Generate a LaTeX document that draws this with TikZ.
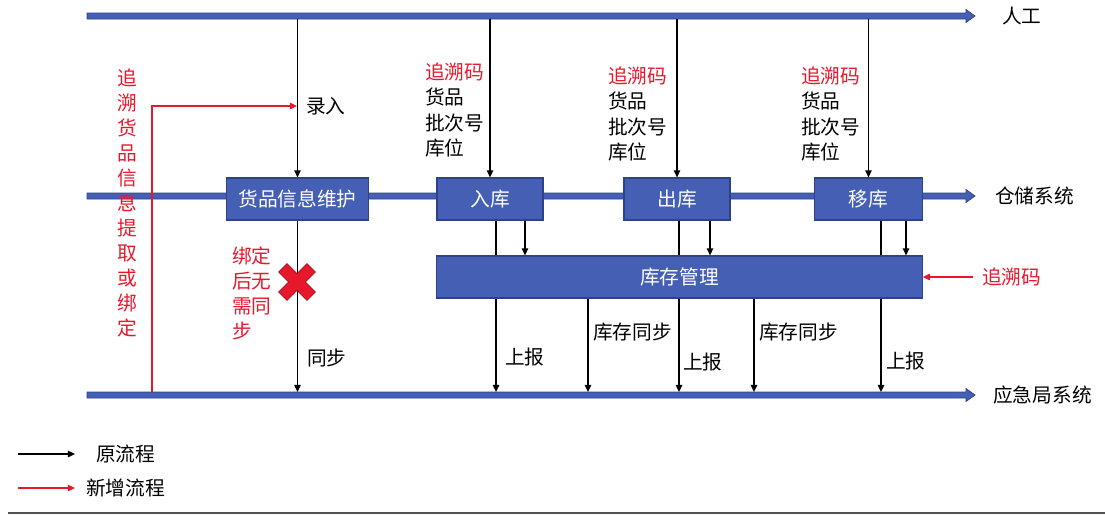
\documentclass[tikz,border=0pt]{standalone}
\usepackage{fontspec}
\setmainfont{Noto Sans CJK SC}
\usepackage{xcolor}
\usepackage{tikz}
\usetikzlibrary{calc,arrows.meta,positioning}
\definecolor{laneBlue}{RGB}{69,95,180}
\definecolor{laneEdge}{RGB}{45,66,135}
\definecolor{flowRed}{RGB}{232,24,44}
\definecolor{crossEdge}{RGB}{160,20,30}
\definecolor{rulegray}{RGB}{80,80,80}

\begin{document}
\begin{tikzpicture}[x=0.025cm,y=-0.025cm,
  lbl/.style={font=\fontsize{14}{17.8}\selectfont, inner sep=0pt, anchor=west, align=left},
  box/.style={fill=laneBlue, draw=laneEdge, line width=0.8pt, text=white,
    font=\fontsize{14}{17}\selectfont, minimum height=1.05cm, inner sep=0pt},
  flow/.style={black, line width=1pt, -{Triangle[length=5pt,width=4.5pt]}},
  newflow/.style={flowRed, line width=1pt, -{Triangle[length=5pt,width=4.5pt]}},
  plainline/.style={black, line width=1pt}]
\useasboundingbox (0,0) rectangle (1105,514);

% three lanes
\foreach \y/\lx/\name/\txt in {16/1002/manual/人工,196/995/wms/仓储系统,395/993/ema/应急局系统}{
  \filldraw[fill=laneBlue, draw=laneEdge, line width=0.5pt]
    (87,\y-3) -- (966,\y-3) -- (966,\y-6.5) -- (975,\y) -- (966,\y+6.5) -- (966,\y+3) -- (87,\y+3) -- cycle;
  \node[lbl] (\name) at (\lx,\y) {\txt};
}
\coordinate (topLane) at (0,19);
\coordinate (botLane) at (0,392);

% boxes on the warehouse lane
\node[box, minimum width=3.57cm] (info) at (297.5,199) {货品信息维护};
\node[box, minimum width=2.65cm] (inbound) at (490,199) {入库};
\node[box, minimum width=2.65cm] (outbound) at (677,199) {出库};
\node[box, minimum width=2.68cm] (transfer) at (868.5,199) {移库};
\node[box, minimum width=12.13cm] (stock) at (679.5,277) {库存管理};

% manual input
\draw[flow] (info.north |- topLane) -- (info.north);
\draw[flow] (inbound.north |- topLane) -- (inbound.north);
\draw[flow] (outbound.north |- topLane) -- (outbound.north);
\draw[flow] (transfer.north |- topLane) -- (transfer.north);
\node[lbl] (luru) at (306,106) {录入};
\node[lbl] (inInfo) at (425,110) {{\color{flowRed}追溯码}\\货品\\批次号\\库位};
\node[lbl] (outInfo) at (608,114) {{\color{flowRed}追溯码}\\货品\\批次号\\库位};
\node[lbl] (mvInfo) at (801,114) {{\color{flowRed}追溯码}\\货品\\批次号\\库位};

% box -> stock -> emergency lane
\foreach \b/\x in {inbound/496,outbound/679,transfer/881}{
  \path (\x,0) coordinate (c);
  \draw[plainline] (\b.south -| c) -- (stock.north -| c);
  \draw[flow] (stock.south -| c) -- (botLane -| c);
}
\foreach \b/\x in {inbound/525,outbound/710,transfer/906}{
  \path (\x,0) coordinate (c);
  \draw[flow] (\b.south -| c) -- (stock.north -| c);
}
\foreach \x in {588,754}{
  \path (\x,0) coordinate (c);
  \draw[flow] (stock.south -| c) -- (botLane -| c);
}
\node[lbl] (rep1) at (505,357) {上报};
\node[lbl] (sync1) at (593,332) {库存同步};
\node[lbl] (rep2) at (683,362) {上报};
\node[lbl] (sync2) at (759,332) {库存同步};
\node[lbl] (rep3) at (886,361) {上报};

% goods info sync
\draw[flow] (info.south) -- (info.south |- botLane);
\node[lbl] (tongbu) at (307,358) {同步};
\node[lbl, text=flowRed] (noSync) at (232,293) {绑定\\后无\\需同\\步};
\begin{scope}[shift={(297,282)}, rotate=45]
\filldraw[fill=flowRed, draw=crossEdge, line width=0.5pt]
  (-6,-20) -- (6,-20) -- (6,-6) -- (20,-6) -- (20,6) -- (6,6) -- (6,20)
  -- (-6,20) -- (-6,6) -- (-20,6) -- (-20,-6) -- (-6,-6) -- cycle;
\end{scope}

% new flows
\coordinate (redStart) at (152,392);
\coordinate (entry) at (297,106);
\draw[newflow] (redStart) |- (entry);
\node[font=\fontsize{14}{17.8}\selectfont, text=flowRed, align=center, inner sep=0pt] (vtext) at (127,203)
  {追\\溯\\货\\品\\信\\息\\提\\取\\或\\绑\\定};
\node[lbl, text=flowRed] (traceCode) at (982,277) {追溯码};
\draw[newflow] ($(traceCode.west)+(-9,0)$) -- (stock.east);

% legend
\coordinate (legA) at (18,454);
\coordinate (legB) at (75,454);
\coordinate (legC) at (18,488);
\coordinate (legD) at (75,488);
\draw[flow] (legA) -- (legB);
\draw[newflow] (legC) -- (legD);
\node[lbl] (legOld) at (96,454) {原流程};
\node[lbl] (legNew) at (86,488) {新增流程};
\draw[rulegray, line width=1pt] (8,513) -- (1105,513);
\end{tikzpicture}
\end{document}
